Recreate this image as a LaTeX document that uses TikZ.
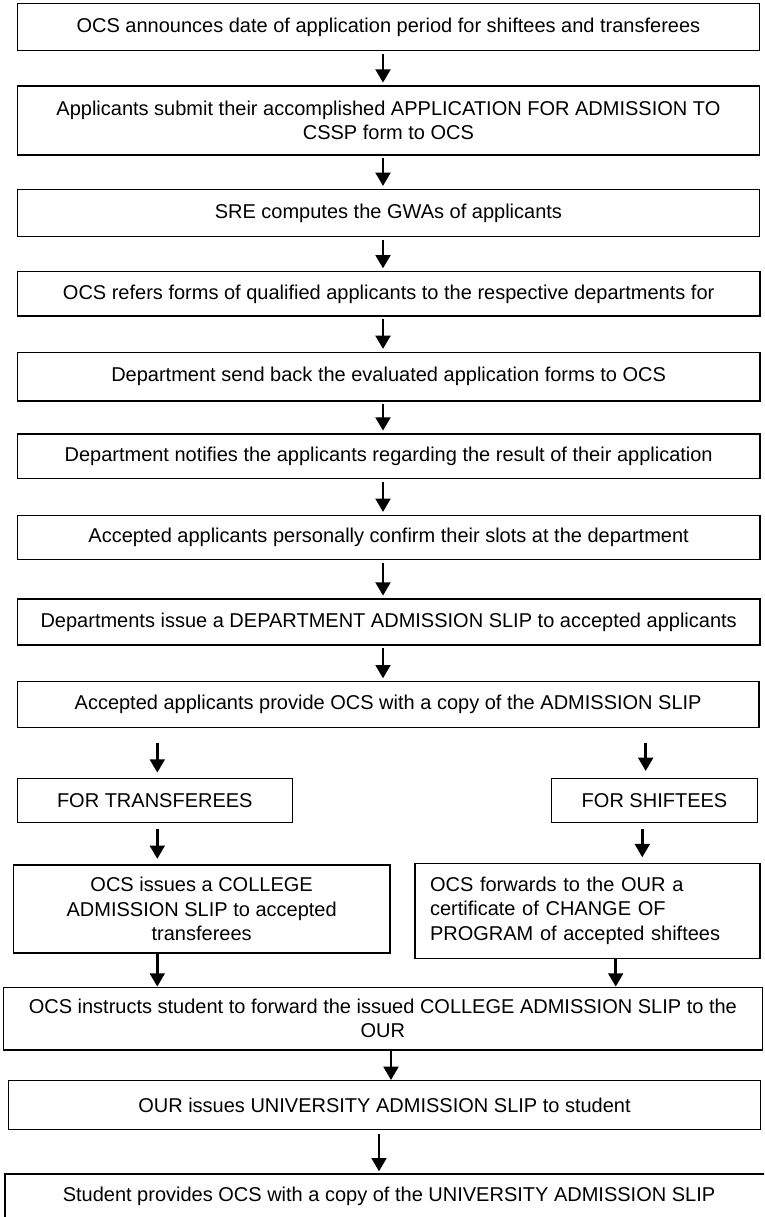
\documentclass[tikz,border=0pt]{standalone}
\usepackage{fontspec}
\setmainfont{Liberation Sans}
\usetikzlibrary{arrows.meta}
\begin{document}
\begin{tikzpicture}[x=0.75pt,y=-0.75pt,
  box/.style={draw, line width=1pt, inner sep=0pt, font=\fontsize{15}{18.4}\selectfont, align=center},
  sz/.style 2 args={minimum width=#1*0.75pt, minimum height=#2*0.75pt},
  lbl/.style={inner sep=0pt, font=\fontsize{15}{18.4}\selectfont},
  arr/.style={line width=2.2pt, -{Triangle[width=11pt,length=10pt]}}]
\useasboundingbox (0,0) rectangle (764,1217);
\clip (0,0) rectangle (764,1217);
% column positions for connectors
\coordinate (cx) at (383,0);
\coordinate (lx) at (157.3,0);
\coordinate (rx1) at (645.7,0);
\coordinate (rx2) at (642.3,0);
\coordinate (rx3) at (615.7,0);
\coordinate (mx) at (391,0);
\coordinate (ux) at (379,0);
% boxes
\node[box, sz={742.2}{47.4}] (b1) at (388.4,27) {OCS announces date of application period for shiftees and transferees};
\node[box, sz={742.2}{69}] (b2) at (388.4,120.5) {Applicants submit their accomplished APPLICATION FOR ADMISSION TO\\CSSP form to OCS};
\node[box, sz={742.2}{47.4}] (b3) at (388.4,213) {SRE computes the GWAs of applicants};
\node[box, sz={742.7}{44.3}] (b4) at (388.65,293.85) {OCS refers forms of qualified applicants to the respective departments for};
\node[box, sz={742.7}{48.7}] (b5) at (388.65,376.65) {Department send back the evaluated application forms to OCS};
\node[box, sz={742.7}{44.7}] (b6) at (388.65,456.35) {Department notifies the applicants regarding the result of their application};
\node[box, sz={742.7}{44}] (b7) at (388.65,537.3) {Accepted applicants personally confirm their slots at the department};
\node[box, sz={742.7}{46}] (b8) at (388.65,622) {Departments issue a DEPARTMENT ADMISSION SLIP to accepted applicants};
\node[box, sz={741.7}{46}] (b9) at (388.15,704.7) {Accepted applicants provide OCS with a copy of the ADMISSION SLIP};
\node[box, sz={275}{44.4}] (t1) at (154.8,800.5) {FOR TRANSFEREES};
\node[box, sz={205.6}{44.4}] (s1) at (654.5,800.5) {FOR SHIFTEES};
\node[box, sz={376.7}{87.7}] (t2) at (201.65,909) {OCS issues a COLLEGE\\ADMISSION SLIP to accepted\\transferees};
\node[box, sz={345}{95}, text width=236.25pt, align=left] (s2) at (587.5,910.8) {OCS forwards to the OUR a\\certificate of CHANGE OF\\PROGRAM of accepted shiftees};
\node[box, sz={759}{62.7}] (m) at (382.8,1018.65) {};
\node[lbl] (m1) at (382.8,1006.3) {OCS instructs student to forward the issued COLLEGE ADMISSION SLIP to the};
\begin{scope}
\clip (0,1010) rectangle (764,1037.5);
\node[lbl] (m2) at (382.8,1030.8) {OUR};
\end{scope}
\node[box, sz={752.4}{48.6}] (u) at (384.5,1105) {OUR issues UNIVERSITY ADMISSION SLIP to student};
\node[box, sz={768}{45}] (st) at (389,1196.5) {Student provides OCS with a copy of the UNIVERSITY ADMISSION SLIP};
% connectors
\draw[arr, shorten <=2pt, shorten >=2pt] (b1.south -| cx) -- (b2.north -| cx);
\draw[arr, shorten <=2pt, shorten >=2pt] (b2.south -| cx) -- (b3.north -| cx);
\draw[arr, shorten <=2pt, shorten >=2pt] (b3.south -| cx) -- (b4.north -| cx);
\draw[arr, shorten <=2pt, shorten >=2pt] (b4.south -| cx) -- (b5.north -| cx);
\draw[arr, shorten <=2pt, shorten >=2pt] (b5.south -| cx) -- (b6.north -| cx);
\draw[arr, shorten <=2pt, shorten >=2pt] (b6.south -| cx) -- (b7.north -| cx);
\draw[arr, shorten <=2pt, shorten >=2pt] (b7.south -| cx) -- (b8.north -| cx);
\draw[arr, shorten <=2pt, shorten >=2pt] (b8.south -| cx) -- (b9.north -| cx);
\draw[arr, shorten <=11.25pt, shorten >=3.75pt] (b9.south -| lx) -- (t1.north -| lx);
\draw[arr, shorten <=11.25pt, shorten >=5pt] (b9.south -| rx1) -- (s1.north -| rx1);
\draw[arr, shorten <=4.2pt, shorten >=4.2pt] (t1.south -| lx) -- (t2.north -| lx);
\draw[arr, shorten <=4pt, shorten >=4pt] (s1.south -| rx2) -- (s2.north -| rx2);
\draw[arr] (t2.south -| lx) -- (m.north -| lx);
\draw[arr] (s2.south -| rx3) -- (m.north -| rx3);
\draw[arr] (m.south -| mx) -- (u.north -| mx);
\draw[arr, shorten <=3pt, shorten >=1.5pt] (u.south -| ux) -- (st.north -| ux);
\end{tikzpicture}
\end{document}
